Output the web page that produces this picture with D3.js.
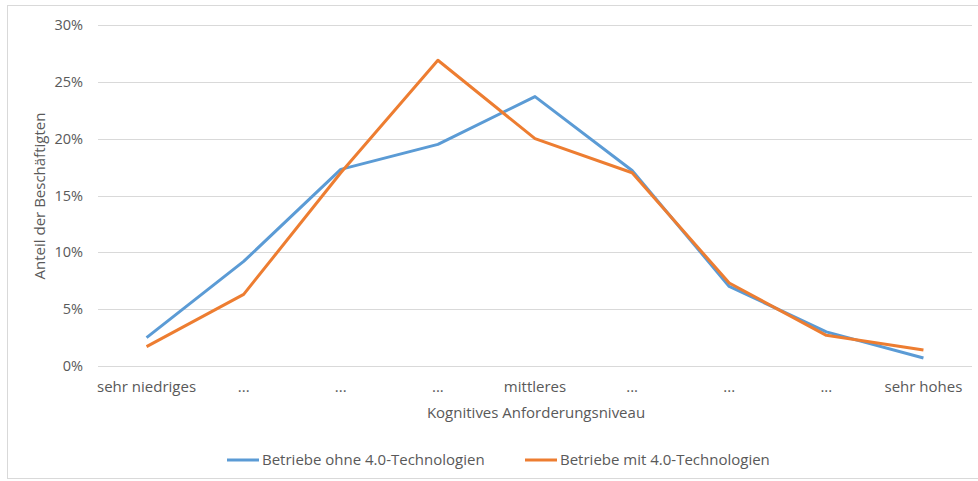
<!DOCTYPE html>
<html lang="de">
<head>
    <meta charset="utf-8">
    <title>Anforderungsniveau</title>
    <script src="https://d3js.org/d3.v7.min.js"></script>
    <style type="text/css">
        body { margin: 0; background: #fff; }
        .textset { font-family: 'Open Sans', Lato, sans-serif; fill: #595959; }
        .grid line { stroke: #d9d9d9; stroke-width: 1; }
    </style>
</head>
<body>
    <script type="text/javascript">

        var categories = ["sehr niedriges", "...", "...", "...", "mittleres", "...", "...", "...", "sehr hohes"];
        var ohne = [2.5, 9.2, 17.3, 19.5, 23.7, 17.2, 7.0, 3.0, 0.7];
        var mit = [1.7, 6.3, 17.0, 26.9, 20.0, 17.0, 7.3, 2.7, 1.4];
        var yTicks = [0, 5, 10, 15, 20, 25, 30];
        var seriesNames = ["Betriebe ohne 4.0-Technologien", "Betriebe mit 4.0-Technologien"];
        var colors = ["#5b9bd5", "#ed7d31"];

        var width = 978, height = 481;
        var plot = { left: 98, right: 972, top: 25, bottom: 366 };

        var svg = d3.select("body").append("svg")
            .attr("width", width)
            .attr("height", height);

        // outer frame
        svg.append("rect")
            .attr("x", 7.5).attr("y", 5.5)
            .attr("width", 990).attr("height", 473)
            .attr("fill", "none")
            .attr("stroke", "#d9d9d9");

        var x = d3.scalePoint()
            .domain(d3.range(categories.length))
            .range([plot.left, plot.right])
            .padding(0.5);
        var y = d3.scaleLinear()
            .domain([0, 30])
            .range([plot.bottom, plot.top]);

        // gridlines
        svg.append("g")
            .attr("class", "grid")
            .selectAll("line")
            .data(yTicks)
            .enter()
            .append("line")
            .attr("x1", plot.left)
            .attr("x2", plot.right)
            .attr("y1", function (d) { return Math.round(y(d)) + 0.5; })
            .attr("y2", function (d) { return Math.round(y(d)) + 0.5; });

        // y axis labels
        svg.append("g")
            .selectAll("text")
            .data(yTicks)
            .enter()
            .append("text")
            .attr("class", "textset")
            .attr("x", 83)
            .attr("y", function (d) { return y(d) + 5; })
            .attr("text-anchor", "end")
            .attr("font-size", "14.5px")
            .text(function (d) { return d + "%"; });

        // x axis labels
        svg.append("g")
            .selectAll("text")
            .data(categories)
            .enter()
            .append("text")
            .attr("class", "textset")
            .attr("x", function (d, i) { return x(i); })
            .attr("y", 392)
            .attr("text-anchor", "middle")
            .attr("font-size", "15px")
            .text(function (d) { return d; });

        svg.append("text")
            .attr("class", "textset")
            .attr("x", 536)
            .attr("y", 418)
            .attr("text-anchor", "middle")
            .attr("font-size", "15px")
            .text("Kognitives Anforderungsniveau");

        svg.append("text")
            .attr("class", "textset")
            .attr("transform", "translate(45,196) rotate(-90)")
            .attr("text-anchor", "middle")
            .attr("font-size", "15px")
            .text("Anteil der Beschäftigten");

        var line = d3.line()
            .x(function (d, i) { return x(i); })
            .y(function (d) { return y(d); });

        [ohne, mit].forEach(function (s, k) {
            svg.append("path")
                .datum(s)
                .attr("fill", "none")
                .attr("stroke", colors[k])
                .attr("stroke-width", 3)
                .attr("stroke-linejoin", "round")
                .attr("d", line);
        });

        // legend
        var legendX = [227, 525];
        seriesNames.forEach(function (name, k) {
            svg.append("line")
                .attr("x1", legendX[k]).attr("x2", legendX[k] + 32)
                .attr("y1", 460).attr("y2", 460)
                .attr("stroke", colors[k])
                .attr("stroke-width", 3);
            svg.append("text")
                .attr("class", "textset")
                .attr("x", legendX[k] + 35)
                .attr("y", 465)
                .attr("font-size", "15px")
                .text(name);
        });

    </script>
</body>
</html>
